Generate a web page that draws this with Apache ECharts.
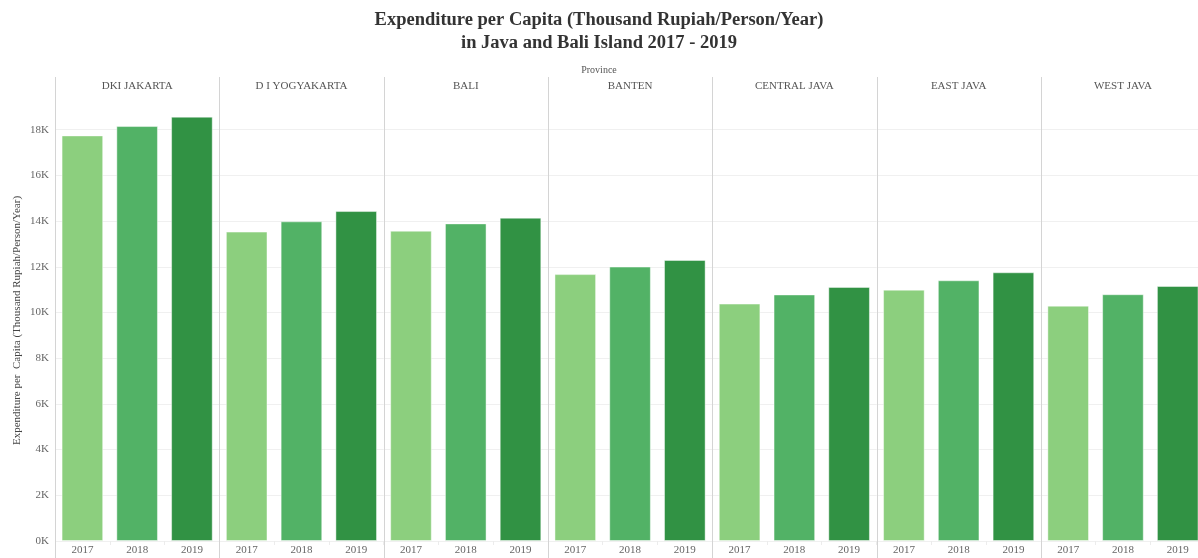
<!DOCTYPE html>
<html>
<head>
<meta charset="utf-8">
<script src="https://cdn.jsdelivr.net/npm/echarts@6/dist/echarts.min.js"></script>
<style>
html,body{margin:0;padding:0;background:#fff;}
#chart{width:1198px;height:558px;}
</style>
</head>
<body>
<div id="chart"></div>
<script>
const provinces = ['DKI JAKARTA','D I YOGYAKARTA','BALI','BANTEN','CENTRAL JAVA','EAST JAVA','WEST JAVA'];
const years = ['2017','2018','2019'];
const v2017 = [17750, 13540, 13580, 11680, 10390, 11000, 10300];
const v2018 = [18160, 13990, 13900, 12010, 10790, 11410, 10800];
const v2019 = [18570, 14440, 14150, 12300, 11120, 11760, 11160];
const yearColors = ['#8ccf7e', '#52b266', '#319244'];
const titleLines = ['Expenditure per Capita (Thousand Rupiah/Person/Year)', 'in Java and Bali Island 2017 - 2019'];

const FONT = '"Liberation Serif", "DejaVu Serif", serif';
const W = 1198, left0 = 55, panelW = 164.3, gTop = 100, gBottom = 17;

const grids = [], xAxes = [], yAxes = [], series = [], graphics = [];
provinces.forEach((p, i) => {
  const gl = left0 + i * panelW;
  grids.push({left: gl, width: panelW, top: gTop, bottom: gBottom,
              containLabel: false, outerBoundsMode: 'none'});
  xAxes.push({
    type: 'category', gridIndex: i, data: years, position: 'bottom',
    axisLine: {show: false},
    axisTick: {show: true, length: 4, lineStyle: {color: '#ececec'}},
    axisLabel: {color: '#666', fontFamily: FONT, fontSize: 11, margin: 4}
  });
  xAxes.push({
    type: 'category', gridIndex: i, data: [p], position: 'top',
    axisLine: {show: false}, axisTick: {show: false},
    axisLabel: {color: '#555', fontFamily: FONT, fontSize: 11, margin: 8}
  });
  yAxes.push({
    type: 'value', gridIndex: i, min: 0, max: 19300, interval: 2000,
    name: i === 0 ? 'Expenditure per  Capita (Thousand Rupiah/Person/Year)' : '',
    nameLocation: 'middle', nameGap: 32,
    nameTextStyle: {color: '#444', fontFamily: FONT, fontSize: 11},
    axisLine: {show: false}, axisTick: {show: false},
    axisLabel: {show: i === 0, color: '#666', fontFamily: FONT, fontSize: 11, margin: 6,
      showMaxLabel: false,
      formatter: v => (v % 2000 === 0 ? (v / 1000) + 'K' : '')},
    splitLine: {show: true, showMaxLine: false, lineStyle: {color: '#f0f0f0', width: 1}}
  });
  series.push({
    type: 'bar', xAxisIndex: i * 2, yAxisIndex: i,
    barCategoryGap: '24%',
    data: [v2017[i], v2018[i], v2019[i]].map((v, k) => ({
      value: v,
      itemStyle: {color: yearColors[k], borderColor: 'rgba(255,255,255,0.45)', borderWidth: 1}
    })),
    emphasis: {disabled: true}
  });
  graphics.push({
    type: 'line', z: 10,
    shape: {x1: Math.round(gl) + 0.5, y1: 77, x2: Math.round(gl) + 0.5, y2: 558},
    style: {stroke: '#d4d4d4', lineWidth: 1}
  });
});

const chart = echarts.init(document.getElementById('chart'), null, {renderer: 'canvas'});
chart.setOption({
  animation: false,
  backgroundColor: '#fff',
  title: [
    {text: titleLines[0], left: 'center', top: 6,
     textStyle: {fontFamily: FONT, fontWeight: 'bold', fontSize: 18.5, color: '#333'}},
    {text: titleLines[1], left: 'center', top: 29,
     textStyle: {fontFamily: FONT, fontWeight: 'bold', fontSize: 18.5, color: '#333'}},
    {text: 'Province', left: 'center', top: 60,
     textStyle: {fontFamily: FONT, fontWeight: 'normal', fontSize: 10, color: '#555'}}
  ],
  grid: grids,
  xAxis: xAxes,
  yAxis: yAxes,
  series: series,
  graphic: graphics
});
</script>
</body>
</html>
